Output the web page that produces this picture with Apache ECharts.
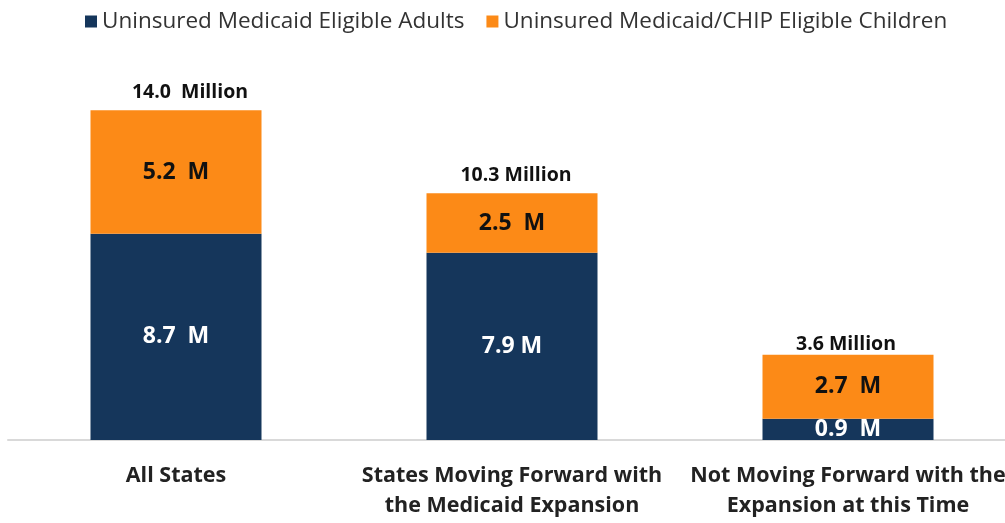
<!DOCTYPE html>
<html>
<head>
<meta charset="utf-8">
<script src="https://cdn.jsdelivr.net/npm/echarts@6/dist/echarts.min.js"></script>
<style>
  html, body { margin: 0; padding: 0; background: #fff; }
  #chart { width: 1005px; height: 523px; }
</style>
</head>
<body>
<div id="chart"></div>
<script>
// data
var categories = ['All States', 'States Moving Forward with\nthe Medicaid Expansion', 'Not Moving Forward with the\nExpansion at this Time'];
var adults = [8.7, 7.9, 0.9];
var children = [5.2, 2.5, 2.7];
var totals = ['14.0  Million', '10.3 Million', '3.6 Million'];
var adultLabels = ['8.7  M', '7.9 M', '0.9  M'];
var childLabels = ['5.2  M', '2.5  M', '2.7  M'];

var font = '"Open Sans", "Noto Sans", sans-serif';
var navy = '#15365b';
var orange = '#fc8a17';
// total labels sit a bit off-centre in the original
var totalOffsets = [[14, 0], [4, 0], [-2, 8]];

var chart = echarts.init(document.getElementById('chart'));
chart.setOption({
  backgroundColor: '#ffffff',
  animation: false,
  textStyle: { fontFamily: font },
  legend: {
    top: 5,
    left: 80,
    itemWidth: 12,
    itemHeight: 12,
    itemGap: 22,
    icon: 'rect',
    data: ['Uninsured Medicaid Eligible Adults', 'Uninsured Medicaid/CHIP Eligible Children'],
    textStyle: { fontSize: 22.5, color: '#333', fontFamily: font }
  },
  // grid runs a little past the right edge, like the original
  grid: { left: 8, width: 1008, top: 108, bottom: 83, containLabel: false, outerBoundsMode: 'none' },
  xAxis: {
    type: 'category',
    data: categories,
    axisTick: { show: false },
    axisLine: { lineStyle: { color: '#d9d9d9', width: 2 } },
    axisLabel: {
      interval: 0,
      margin: 21,
      fontSize: 21.5,
      fontWeight: 'bold',
      color: '#222',
      lineHeight: 30,
      fontFamily: font
    }
  },
  yAxis: { type: 'value', min: 0, max: 14, show: false, splitLine: { show: false } },
  series: [
    {
      name: 'Uninsured Medicaid Eligible Adults',
      type: 'bar',
      stack: 'total',
      barWidth: 171,
      itemStyle: { color: navy },
      data: adults,
      label: {
        show: true,
        position: 'inside',
        color: '#fff',
        fontSize: 23,
        fontWeight: 'bold',
        fontFamily: font,
        formatter: function (p) { return adultLabels[p.dataIndex]; }
      }
    },
    {
      name: 'Uninsured Medicaid/CHIP Eligible Children',
      type: 'bar',
      stack: 'total',
      itemStyle: { color: orange },
      data: children,
      label: {
        show: true,
        position: 'inside',
        color: '#111',
        fontSize: 23,
        fontWeight: 'bold',
        fontFamily: font,
        formatter: function (p) { return childLabels[p.dataIndex]; }
      }
    },
    {
      name: 'total',
      type: 'bar',
      stack: 'total',
      data: totals.map(function (t, i) {
        return { value: 0, label: { offset: totalOffsets[i] } };
      }),
      itemStyle: { color: 'transparent' },
      label: {
        show: true,
        position: 'top',
        distance: 8,
        color: '#111',
        fontSize: 19.5,
        fontWeight: 'bold',
        fontFamily: font,
        formatter: function (p) { return totals[p.dataIndex]; }
      }
    }
  ]
});
</script>
</body>
</html>
